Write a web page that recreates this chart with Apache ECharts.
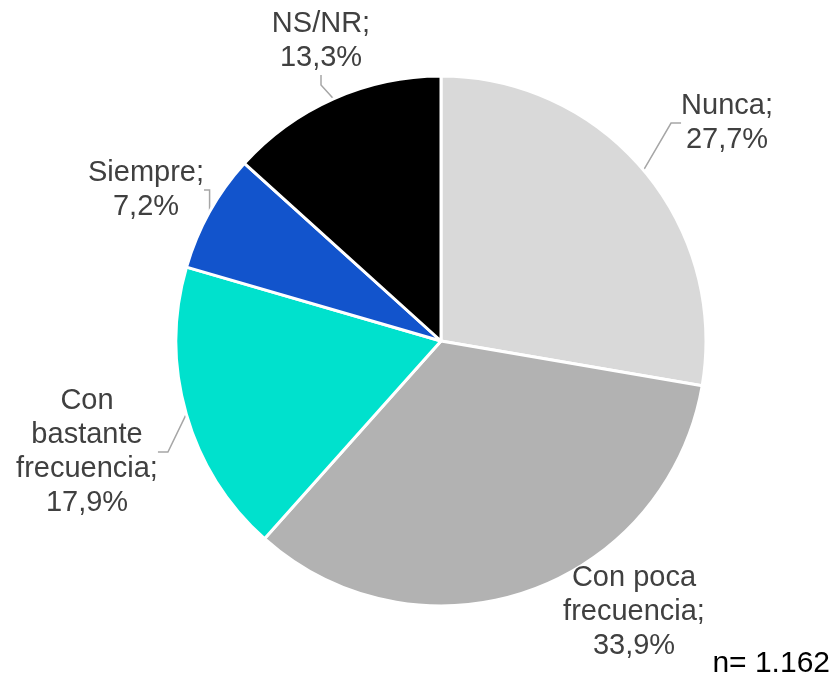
<!DOCTYPE html>
<html>
<head>
<meta charset="utf-8">
<script src="https://cdn.jsdelivr.net/npm/echarts@6/dist/echarts.min.js"></script>
<style>
  html, body { margin: 0; padding: 0; background: #fff; }
  #main { width: 835px; height: 680px; }
</style>
</head>
<body>
<div id="main"></div>
<script>
var categories = ['Nunca', 'Con poca\nfrecuencia', 'Con\nbastante\nfrecuencia', 'Siempre', 'NS/NR'];
var values = [27.7, 33.9, 17.9, 7.2, 13.3];
var colors = ['#D9D9D9', '#B2B2B2', '#00E1CD', '#1254CC', '#000000'];
var sampleNote = 'n= 1.162';

// where each label block sits (centre), by slice index
var labelPos = [
  [727, 123],
  [634, 612],
  [87, 452],
  [146, 190],
  [321, 41]
];

var chart = echarts.init(document.getElementById('main'));

var option = {
  animation: false,
  color: colors,
  series: [{
    type: 'pie',
    center: [441, 341],
    radius: 265,
    startAngle: 90,
    clockwise: true,
    data: categories.map(function (c, i) {
      var d = { name: c, value: values[i] };
      if (i === 1) d.labelLine = { show: false };
      return d;
    }),
    itemStyle: {
      borderColor: '#fff',
      borderWidth: 3
    },
    label: {
      show: true,
      position: 'outside',
      color: '#404040',
      fontFamily: 'Liberation Sans, Arial, sans-serif',
      fontSize: 29,
      lineHeight: 34,
      align: 'center',
      formatter: function (p) {
        return p.name + ';\n' + p.value.toFixed(1).replace('.', ',') + '%';
      }
    },
    labelLine: {
      show: true,
      length: 12,
      length2: 10,
      lineStyle: { color: '#A6A6A6', width: 1.5 }
    },
    labelLayout: function (params) {
      var pos = labelPos[params.dataIndex];
      return {
        x: pos[0],
        y: pos[1],
        align: 'center',
        verticalAlign: 'middle'
      };
    }
  }],
  graphic: [{
    type: 'text',
    right: 5,
    bottom: 1,
    style: {
      text: sampleNote,
      fill: '#000',
      fontFamily: 'Liberation Sans, Arial, sans-serif',
      fontSize: 30
    }
  }]
};

chart.setOption(option);
</script>
</body>
</html>
